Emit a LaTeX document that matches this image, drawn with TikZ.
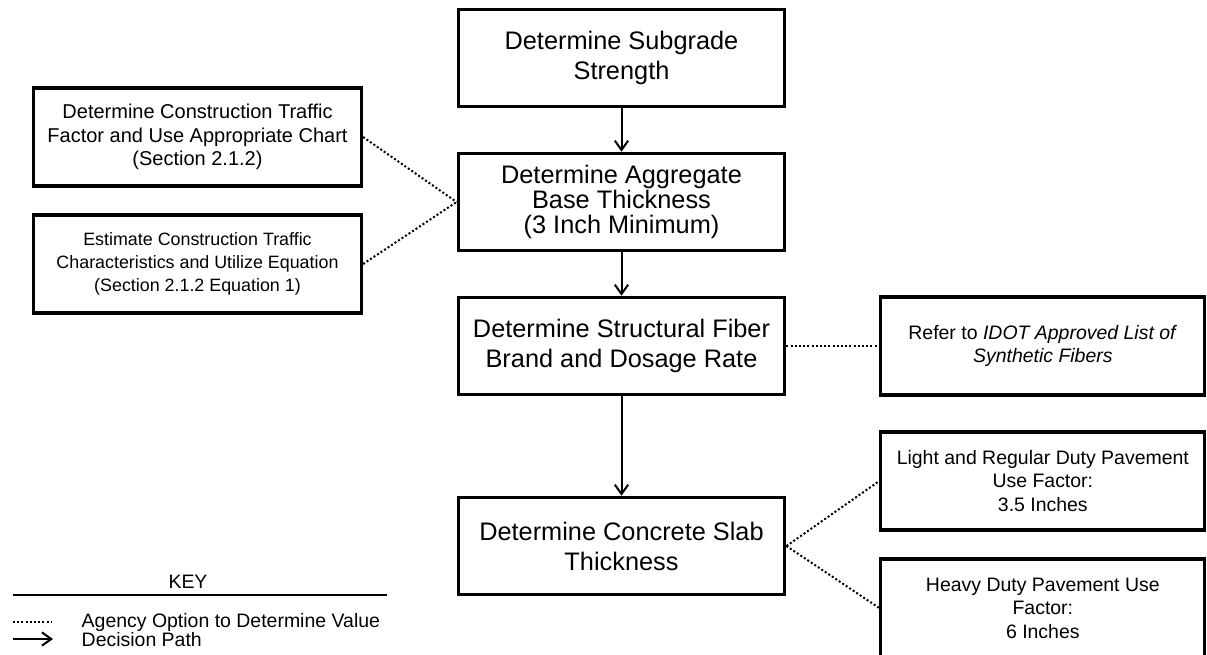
\documentclass[tikz,border=0pt]{standalone}
\usepackage{fontspec}
\setmainfont{Liberation Sans}
\usetikzlibrary{arrows.meta}
\tikzstyle{mainbox} = [rectangle, minimum width=245pt, minimum height=73pt, text centered, align=center, draw=black, line width=2.4pt, font=\fontsize{19}{22.5}\selectfont]
\tikzstyle{sidebox} = [rectangle, minimum width=246pt, minimum height=73.5pt, text centered, align=center, draw=black, line width=2.4pt, font=\fontsize{14.6}{17.6}\selectfont]
\tikzstyle{arrow} = [line width=1.5pt, -{Straight Barb[length=7pt, width=10pt, line width=1.5pt]}]
\tikzstyle{option} = [line width=1.5pt, dash pattern=on 1.5pt off 1.65pt]

\begin{document}
\begin{tikzpicture}[x=0.75pt, y=-0.75pt, node distance=108pt]
	\useasboundingbox (0,0) rectangle (1207,654);
	
	% Nodes
	\node (subgrade) [mainbox] at (621.5,58) {Determine Subgrade\\Strength};
	\node (aggregate) [mainbox, below of=subgrade, font=\fontsize{19}{18.75}\selectfont] {Determine Aggregate\\Base Thickness\\(3 Inch Minimum)};
	\node (fiber) [mainbox, below of=aggregate] {Determine Structural Fiber\\Brand and Dosage Rate};
	\node (slab) [mainbox, below of=fiber, yshift=-42pt] {Determine Concrete Slab\\Thickness};
	\node (chart) [sidebox, node distance=318pt, left of=aggregate, yshift=48.75pt, font=\fontsize{15}{17.5}\selectfont] {Determine Construction Traffic\\Factor and Use Appropriate Chart\\(Section 2.1.2)};
	\node (equation) [sidebox, node distance=318pt, left of=aggregate, yshift=-46.5pt, font=\fontsize{13.4}{17}\selectfont] {Estimate Construction Traffic\\Characteristics and Utilize Equation\\(Section 2.1.2 Equation 1)};
	\node (idot) [sidebox, node distance=316pt, right of=fiber, minimum width=243pt] {Refer to \textit{IDOT Approved List of}\\\textit{Synthetic Fibers}};
	\node (light) [sidebox, node distance=316pt, right of=slab, yshift=48.75pt, minimum width=243pt] {Light and Regular Duty Pavement\\Use Factor:\\3.5 Inches};
	\node (heavy) [sidebox, node distance=316pt, right of=slab, yshift=-46.5pt, minimum width=243pt] {Heavy Duty Pavement Use\\Factor:\\6 Inches};
	
	% Key
	\node (key) [anchor=base, font=\fontsize{14.6}{17.6}\selectfont] at (188,588) {KEY};
	\node (keyopt) [anchor=base west, font=\fontsize{14.6}{17.6}\selectfont] at (77,627) {Agency Option to Determine Value};
	\node (keypath) [anchor=base west, font=\fontsize{14.6}{17.6}\selectfont] at (77,646) {Decision Path};
	\coordinate (ruleL) at (13,595);
	\coordinate (ruleR) at (387,595);
	\coordinate (optL) at (13,622);
	\coordinate (optR) at (52,622);
	\coordinate (pathL) at (13,639);
	\coordinate (pathR) at (53,639);
	
	% Arrows
	\draw [arrow] (subgrade) -- (aggregate);
	\draw [arrow] (aggregate) -- (fiber);
	\draw [arrow] (fiber) -- (slab);
	\draw [option] (chart.east) -- (aggregate.west);
	\draw [option] (equation.east) -- (aggregate.west);
	\draw [option] (fiber.east) -- (idot.west);
	\draw [option] (slab.east) -- (light.west);
	\draw [option] (slab.east) -- (heavy.west);
	\draw [line width=0.9pt] (ruleL) -- (ruleR);
	\draw [option] (optL) -- (optR);
	\draw [arrow, line width=2pt] (pathL) -- (pathR);
	
\end{tikzpicture}
\end{document}
